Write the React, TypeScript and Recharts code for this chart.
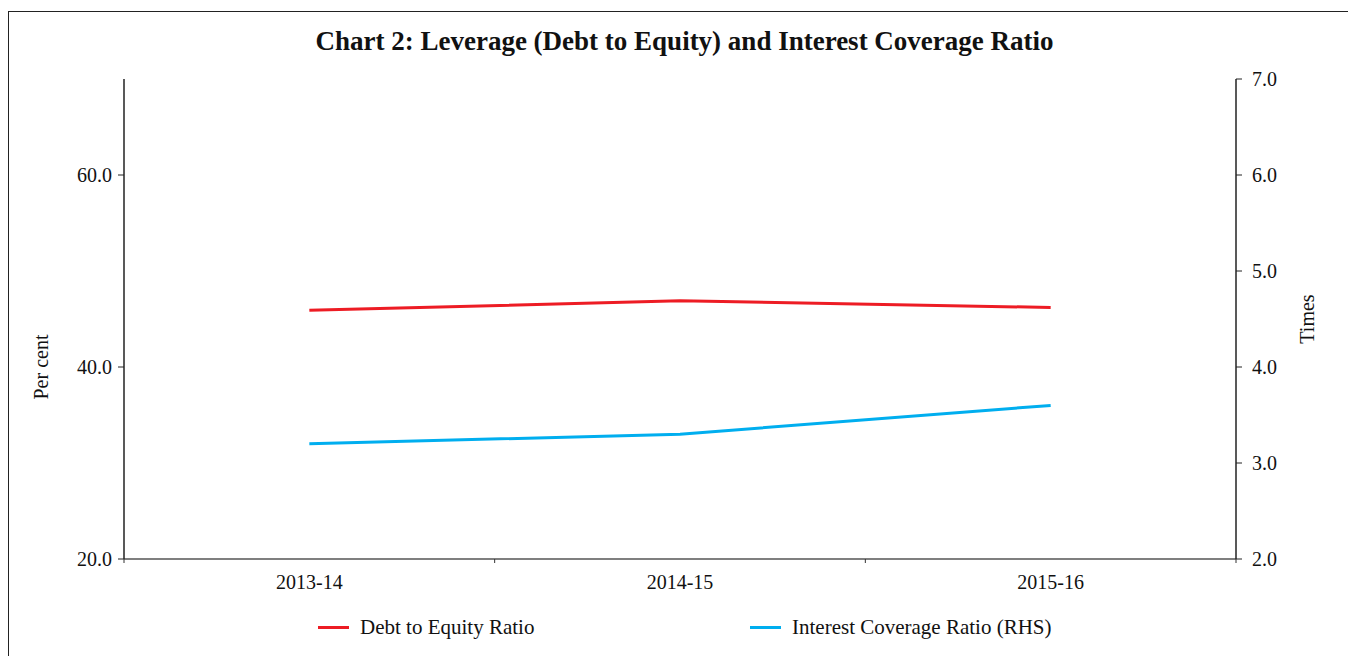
import React from "react";
import { LineChart, Line, XAxis, YAxis } from "recharts";

const categories = ["2013-14", "2014-15", "2015-16"];
const debtToEquity = [45.9, 46.9, 46.2];
const interestCoverage = [3.2, 3.3, 3.6];
const leftTicks = [20, 40, 60];
const rightTicks = [2, 3, 4, 5, 6, 7];

const seriesNames = ["Debt to Equity Ratio", "Interest Coverage Ratio (RHS)"];
const seriesColors = ["#ED1C24", "#00AEEF"];

const data = categories.map((c, i) => ({
  pos: i + 0.5,
  name: c,
  de: debtToEquity[i],
  icr: interestCoverage[i],
}));

const xTicks: number[] = [];
for (let i = 0; i <= categories.length; i++) {
  xTicks.push(i);
  if (i < categories.length) xTicks.push(i + 0.5);
}

const FONT = "'Liberation Serif', serif";

const XTick = (props: any) => {
  const { x, y, payload } = props;
  const v = payload.value;
  if (Number.isInteger(v)) {
    return <line x1={x} x2={x} y1={y} y2={y + 4} stroke="#333" strokeWidth={1} />;
  }
  const idx = Math.floor(v);
  return (
    <text x={x} y={y + 30} textAnchor="middle" fontSize={20} fill="#111" fontFamily={FONT}>
      {categories[idx]}
    </text>
  );
};

export default function App() {
  return (
    <div style={{ position: "fixed", left: 0, top: 0, width: 1348, height: 656, overflow: "hidden", background: "#fff" }}>
      <div
        style={{
          position: "absolute",
          left: 8,
          top: 11,
          width: 1400,
          height: 700,
          border: "1.5px solid #222",
          boxSizing: "border-box",
        }}
      />
      <div
        style={{
          position: "absolute",
          left: 0,
          top: 26,
          width: 1369,
          textAlign: "center",
          fontFamily: FONT,
          fontWeight: "bold",
          fontSize: 27,
          color: "#111",
        }}
      >
        Chart 2: Leverage (Debt to Equity) and Interest Coverage Ratio
      </div>
      <div style={{ position: "absolute", left: 0, top: 0 }}>
        <LineChart width={1348} height={656} data={data} margin={{ top: 79, right: 0, left: 0, bottom: 56 }}>
          <XAxis
            dataKey="pos"
            type="number"
            domain={[0, categories.length]}
            ticks={xTicks}
            interval={0}
            tickLine={false}
            tickSize={0}
            tickMargin={0}
            axisLine={{ stroke: "#555", strokeWidth: 1.5 }}
            tick={<XTick />}
            height={41}
          />
          <YAxis
            yAxisId="left"
            orientation="left"
            domain={[20, 70]}
            ticks={leftTicks}
            interval={0}
            width={124}
            tickFormatter={(v: number) => v.toFixed(1)}
            tick={{ fontSize: 20, fill: "#111", fontFamily: FONT }}
            tickSize={6}
            tickMargin={6}
            tickLine={{ stroke: "#222" }}
            axisLine={{ stroke: "#222", strokeWidth: 1.5 }}
            label={{
              value: "Per cent",
              angle: -90,
              position: "insideLeft",
              dx: 36,
              dy: 48,
              style: { fontSize: 20, fill: "#111", fontFamily: FONT, textAnchor: "middle" },
            }}
          />
          <YAxis
            yAxisId="right"
            orientation="right"
            domain={[2, 7]}
            ticks={rightTicks}
            interval={0}
            width={112}
            tickFormatter={(v: number) => v.toFixed(1)}
            tick={{ fontSize: 20, fill: "#111", fontFamily: FONT }}
            tickSize={6}
            tickMargin={10}
            tickLine={{ stroke: "#222" }}
            axisLine={{ stroke: "#222", strokeWidth: 1.5 }}
            label={{
              value: "Times",
              angle: -90,
              position: "insideRight",
              dx: -36,
              style: { fontSize: 20, fill: "#111", fontFamily: FONT, textAnchor: "middle" },
            }}
          />
          <Line
            yAxisId="left"
            dataKey="de"
            name={seriesNames[0]}
            stroke={seriesColors[0]}
            strokeWidth={3}
            dot={false}
            isAnimationActive={false}
          />
          <Line
            yAxisId="right"
            dataKey="icr"
            name={seriesNames[1]}
            stroke={seriesColors[1]}
            strokeWidth={3}
            dot={false}
            isAnimationActive={false}
          />
        </LineChart>
      </div>
      <div style={{ position: "absolute", left: 0, top: 612, width: 1348, height: 30, fontFamily: FONT, fontSize: 21, color: "#111" }}>
        {[318, 750].map((left, i) => (
          <div key={i} style={{ position: "absolute", left, top: 0, display: "flex", alignItems: "center", height: 30 }}>
            <div style={{ width: 31, height: 3, background: seriesColors[i], marginRight: 11 }} />
            <span>{seriesNames[i]}</span>
          </div>
        ))}
      </div>
    </div>
  );
}
